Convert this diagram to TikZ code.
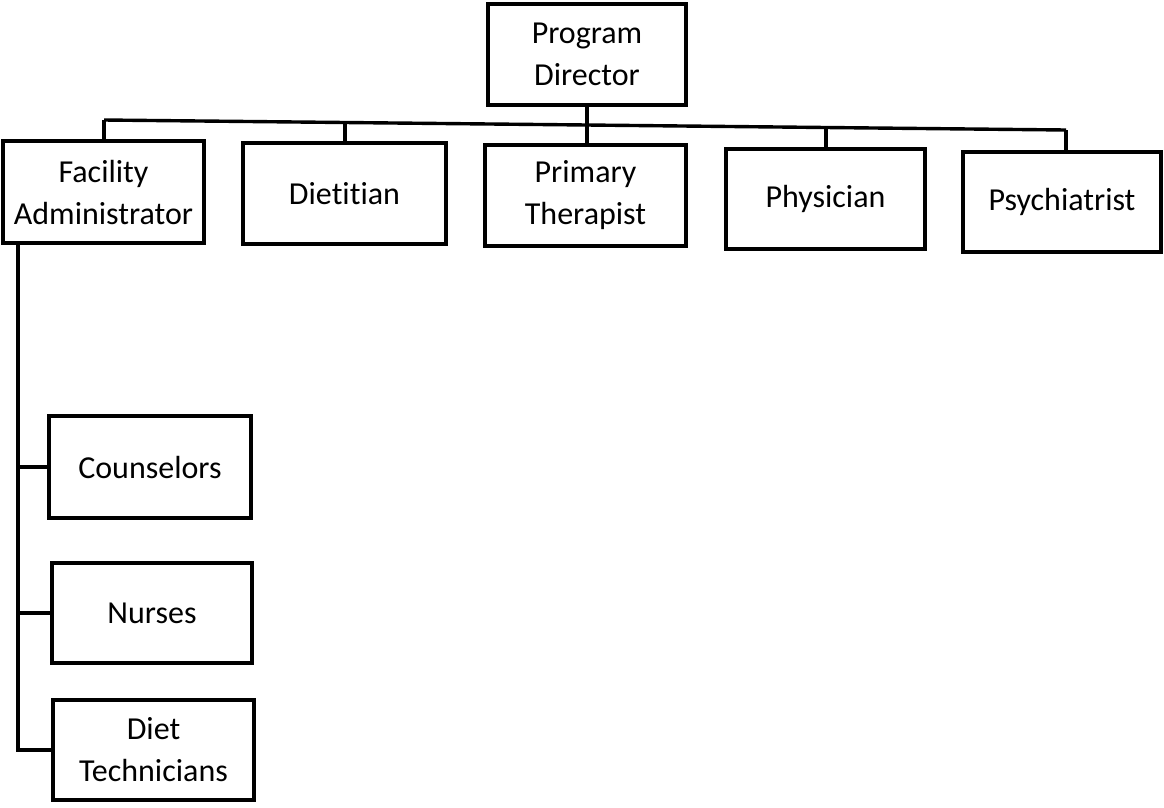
\documentclass[tikz,border=0pt]{standalone}
\usepackage{fontspec}
\setmainfont{Carlito}[Ligatures=NoCommon]
\begin{document}
\begin{tikzpicture}[x=1pt,y=-1pt,
  box/.style={draw=black, line width=3.4pt, outer sep=0pt, inner sep=0pt, align=center,
    font=\fontsize{32}{42}\selectfont},
  conn/.style={draw=black, line width=3.4pt}]
\useasboundingbox (0,0) rectangle (1164,807);
\node[box, minimum width=198pt, minimum height=101pt] (pd) at (587,54.5) {Program\\Director};
\node[box, minimum width=201pt, minimum height=102pt] (fa) at (103.5,192) {Facility\\Administrator};
\node[box, minimum width=203pt, minimum height=101pt] (di) at (344.5,193.5) {Dietitian};
\node[box, minimum width=201pt, minimum height=101pt] (pt) at (585.5,195.5) {Primary\\Therapist};
\node[box, minimum width=199pt, minimum height=100pt] (ph) at (825.5,199) {Physician};
\node[box, minimum width=198pt, minimum height=100pt] (ps) at (1062,202) {Psychiatrist};
\node[box, minimum width=202pt, minimum height=102pt] (co) at (150,467) {Counselors};
\node[box, minimum width=200pt, minimum height=100pt] (nu) at (152,613) {Nurses};
\node[box, minimum width=201pt, minimum height=100pt] (dt) at (153.5,750) {Diet\\Technicians};
% bus
\coordinate (j1) at (104,120);
\coordinate (j2) at (345,122.5);
\coordinate (j3) at (587,125);
\coordinate (j4) at (826,127.5);
\coordinate (j5) at (1066,130);
\draw[conn] (j1) -- (j2) -- (j3) -- (j4) -- (j5);
\draw[conn] (pd.south) -- (pt.north -| pd.south);
\draw[conn] (j1) -- (j1 |- fa.north);
\draw[conn] (j2) -- (j2 |- di.north);
\draw[conn] (j4) -- (j4 |- ph.north);
\draw[conn] (j5) -- (j5 |- ps.north);
% trunk
\coordinate (tr) at (18,0);
\draw[conn] (fa.south -| tr) -- (dt.west -| tr) -- (dt.west);
\draw[conn] (co.west -| tr) -- (co.west);
\draw[conn] (nu.west -| tr) -- (nu.west);
\end{tikzpicture}
\end{document}
